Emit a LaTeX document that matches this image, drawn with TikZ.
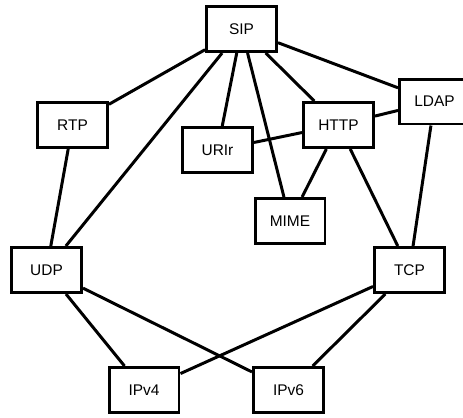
\documentclass[tikz,border=0pt]{standalone}
\usepackage{fontspec}
\setmainfont{Liberation Sans}

\begin{document}
\begin{tikzpicture}[
  x=0.02cm, y=-0.02cm,
  proto/.style={draw, line width=1.7pt, minimum width=1.40cm, minimum height=0.90cm,
    inner sep=0pt, font=\fontsize{8.8}{10}\selectfont},
  link/.style={line width=1.7pt}
]
  \useasboundingbox (0,0) rectangle (463,417);

  \node[proto] (sip)  at (241.5,29)  {SIP};
  \node[proto] (rtp)  at (72.5,125)  {RTP};
  \node[proto] (urir) at (217.5,150) {URIr};
  \node[proto] (http) at (338.5,125) {HTTP};
  \node[proto] (ldap) at (434.5,101.5) {LDAP};
  \node[proto] (mime) at (290,221)   {MIME};
  \node[proto] (udp)  at (46.5,270)  {UDP};
  \node[proto] (tcp)  at (409.5,270) {TCP};
  \node[proto] (ipv4) at (144,390)   {IPv4};
  \node[proto] (ipv6) at (288.5,390) {IPv6};

  % links between the protocols
  \foreach \a/\b in {sip/rtp, sip/udp, sip/urir, sip/mime, sip/http, sip/ldap,
                     http/urir, http/ldap, http/mime, http/tcp, ldap/tcp,
                     rtp/udp, udp/ipv4, udp/ipv6, tcp/ipv4, tcp/ipv6}
    \draw[link] (\a) -- (\b);
\end{tikzpicture}
\end{document}
